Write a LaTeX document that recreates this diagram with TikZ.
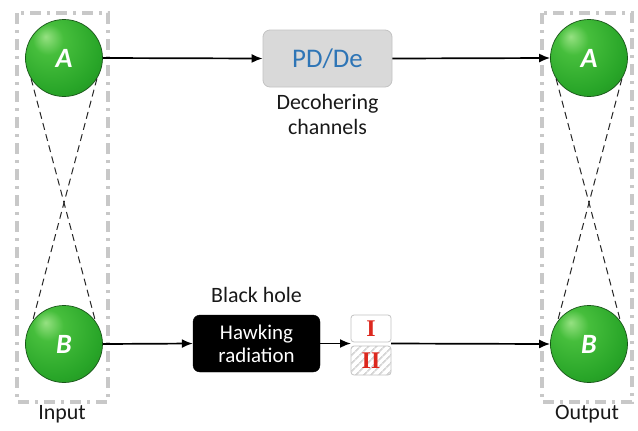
\documentclass[tikz,border=0pt]{standalone}
\usepackage{fontspec}
\setmainfont{Carlito}
\newfontfamily\serifbf{Liberation Serif}
\usetikzlibrary{arrows.meta,patterns.meta}
\definecolor{ballrim}{RGB}{25,85,25}
\definecolor{gA}{RGB}{150,225,130}
\definecolor{gB}{RGB}{70,190,60}
\definecolor{gC}{RGB}{40,165,40}
\definecolor{gD}{RGB}{25,120,25}
\definecolor{boxgray}{RGB}{217,217,217}
\definecolor{boxrim}{RGB}{195,195,195}
\definecolor{pdblue}{RGB}{46,117,182}
\definecolor{framegray}{RGB}{200,200,200}
\definecolor{txt}{RGB}{25,25,25}
\definecolor{romred}{RGB}{220,40,30}
\pgfdeclareradialshading{greenball}{\pgfpoint{-12bp}{14bp}}{%
  color(0bp)=(gA); color(10bp)=(gB); color(30bp)=(gC); color(52bp)=(gD); color(70bp)=(gD)}
\tikzset{
  ball/.style={circle, minimum size=77bp, inner sep=0pt, shading=greenball,
    draw=ballrim, line width=0.7bp, text=white,
    font=\fontsize{28}{30}\selectfont\bfseries\itshape},
  frame/.style={draw=framegray, line width=3.2bp, dash pattern=on 11bp off 6bp on 3bp off 6bp},
  entang/.style={draw=black!85, line width=1bp, dash pattern=on 7bp off 4.5bp},
  flow/.style={draw=black, line width=1.7bp, -{Latex[length=11bp,width=9bp]}},
  lbl/.style={text=txt, font=\fontsize{22}{26}\selectfont, align=center},
  romanbox/.style={draw=boxrim, line width=0.8bp, rounded corners=3bp, minimum width=40bp,
    inner sep=0pt, text=romred, font=\fontsize{24}{26}\serifbf\bfseries},
}
\begin{document}
\begin{tikzpicture}[x=1bp,y=-1bp]
\useasboundingbox (0,0) rectangle (638,430);
\fill[white] (0,0) rectangle (638,430);
% frames
\draw[frame] (17,13) rectangle (108,402);
\draw[frame] (542,13) rectangle (632,402);
\node[lbl] (inlbl) at (62,414) {Input};
\node[lbl] (outlbl) at (587,414) {Output};
% balls
\node[ball] (Ain) at (64,58) {A};
\node[ball] (Bin) at (64,344) {B};
\node[ball] (Aout) at (589,58) {A};
\node[ball] (Bout) at (589,344) {B};
% entanglement lines
\draw[entang] (Ain.212) -- (Bin.36);
\draw[entang] (Ain.328) -- (Bin.144);
\draw[entang] (Aout.212) -- (Bout.36);
\draw[entang] (Aout.328) -- (Bout.144);
% decoherence
\node[draw=boxrim, fill=boxgray, line width=0.8bp, rounded corners=7bp,
      minimum width=129bp, minimum height=57bp, inner sep=0pt,
      text=pdblue, font=\fontsize{27}{29}\selectfont] (pd) at (327.5,58.5) {PD/De};
\node[lbl, anchor=north] (dec) at (327.5,91) {Decohering\\[-1bp]channels};
\draw[flow] (Ain.east) -- (pd.west);
\draw[flow] (pd.east) -- (Aout.west);
% hawking
\node[draw=black, fill=black, rounded corners=7bp, minimum width=127bp, minimum height=57bp,
      inner sep=0pt, text=white, font=\fontsize{21}{24}\selectfont, align=center] (hr) at (256.5,343.5) {Hawking\\[-1bp]radiation};
\node[lbl] (bh) at (256.5,295) {Black hole};
\node[romanbox, fill=white, minimum height=27bp] (r1) at (371,328.5) {I};
\node[romanbox, minimum height=29bp,
      preaction={fill=white},
      pattern={Lines[angle=45,distance=6bp,line width=2bp]}, pattern color=black!16] (r2) at (371,360.5) {};
\node[text=romred, font=\fontsize{24}{26}\serifbf\bfseries, inner sep=0pt] (r2t) at (r2.center) {II};
\coordinate (rmid) at (351,343.5);
\coordinate (rout) at (391,343.5);
\draw[flow] (Bin.east) -- (hr.west);
\draw[flow] (hr.east) -- (rmid);
\draw[flow] (rout) -- (Bout.west);
\end{tikzpicture}
\end{document}
